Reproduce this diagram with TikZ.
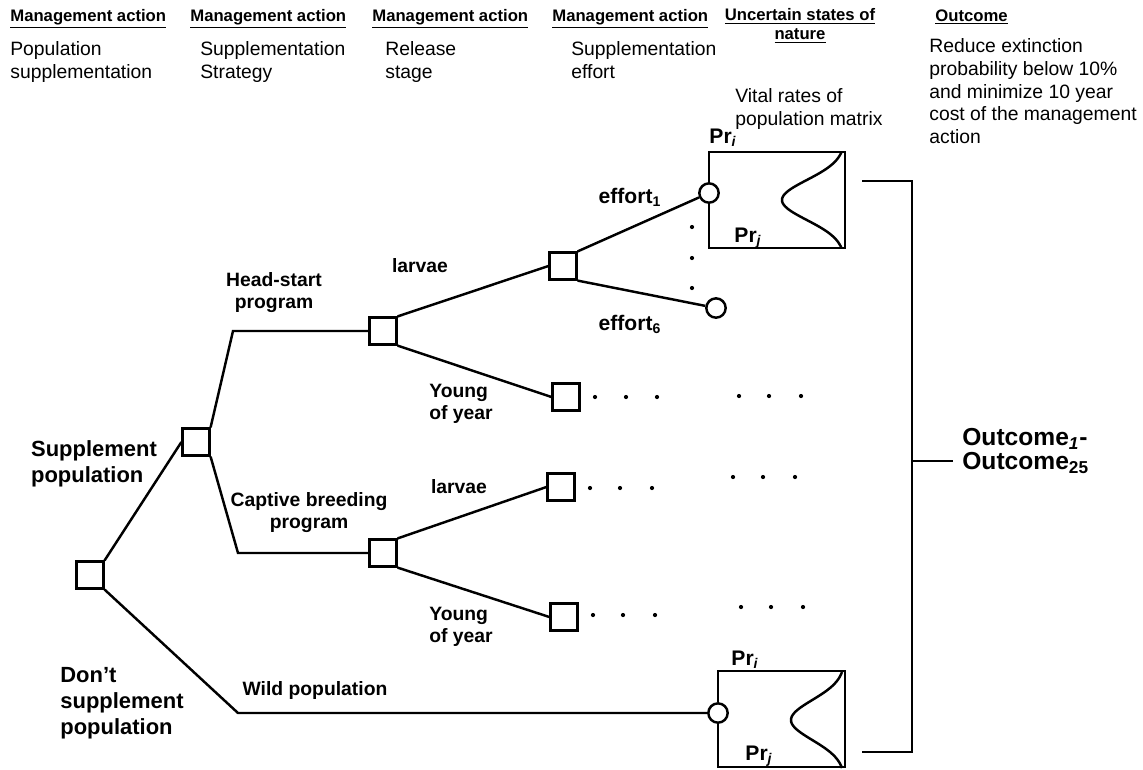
\documentclass[tikz,border=0pt]{standalone}
\usepackage{fontspec}
\setmainfont{Liberation Sans}
\usetikzlibrary{positioning}

\tikzset{
  decision/.style={draw, rectangle, line width=1.6pt, minimum size=15pt, inner sep=0pt},
  chance/.style={draw, circle, line width=1.4pt, minimum size=11pt, inner sep=0pt},
  branch/.style={line width=1.4pt},
  thinbox/.style={line width=0.8pt},
  hdr/.style={anchor=base west, inner sep=0pt, font=\fontsize{9.5}{11}\selectfont\bfseries},
  body/.style={anchor=north west, inner sep=0pt, align=left, font=\fontsize{11}{13}\selectfont},
  lab/.style={inner sep=0pt, align=center, font=\fontsize{11}{12.5}\selectfont\bfseries},
  big/.style={inner sep=0pt, align=left, font=\fontsize{12.5}{14.7}\selectfont\bfseries},
  eff/.style={inner sep=0pt, font=\fontsize{12}{12}\selectfont\bfseries},
  prob/.style={inner sep=0pt, font=\fontsize{12}{12}\selectfont\bfseries},
  outc/.style={inner sep=0pt, align=left, font=\fontsize{14}{13.5}\selectfont\bfseries},
}

\begin{document}
\begin{tikzpicture}[x=0.02cm, y=-0.02cm]
\useasboundingbox (0,0) rectangle (1143,769);

% column headers
\foreach \x/\n in {10/h1, 190/h2, 372/h3, 552/h4}
  \node[hdr] (\n) at (\x,21) {\underline{Management action}};
\node[hdr, anchor=north, align=center] (h5) at (800,8) {\underline{Uncertain states of}\\\underline{nature}};
\node[hdr] (h6) at (935,21) {\underline{Outcome}};

\node[body] (b1) at (10,41) {Population\\supplementation};
\node[body] (b2) at (200,41) {Supplementation\\Strategy};
\node[body] (b3) at (385,41) {Release\\stage};
\node[body] (b4) at (571,41) {Supplementation\\effort};
\node[body] (b5) at (735,88) {Vital rates of\\population matrix};
\node[body] (b6) at (929,38) {Reduce extinction\\probability below 10\%\\and minimize 10 year\\cost of the management\\action};

% decision and chance nodes
\node[decision] (root) at (90,575) {};
\node[decision] (strat) at (196,442) {};
\node[decision] (head) at (383,331) {};
\node[decision] (capt) at (383,553) {};
\node[decision] (hlarv) at (563,266) {};
\node[decision] (hyoung) at (566,397) {};
\node[decision] (clarv) at (561,487) {};
\node[decision] (cyoung) at (564,617) {};
\node[chance] (eff1) at (709,193) {};
\node[chance] (eff6) at (716,308) {};
\node[chance] (wild) at (718,713) {};

\coordinate (khead) at (233,331);
\coordinate (kcapt) at (238,553);
\coordinate (kwild) at (238,713);

% branches
\draw[branch] (root.north east) -- (strat.west);
\draw[branch] (root.south east) -- (kwild) -- (wild);
\draw[branch] (strat.north east) -- (khead) -- (head);
\draw[branch] (strat.south east) -- (kcapt) -- (capt);
\foreach \a/\b/\c in {head/hlarv/hyoung, capt/clarv/cyoung} {
  \draw[branch] (\a.north east) -- (\b.west);
  \draw[branch] (\a.south east) -- (\c.west);
}
\draw[branch] (hlarv.north east) -- (eff1);
\draw[branch] (hlarv.south east) -- (eff6);

% branch labels
\node[lab] (lhead) at (274,293) {Head-start\\program};
\node[lab] (lcapt) at (309,513) {Captive breeding\\program};
\node[lab] (lhl) at (420,266) {larvae};
\node[lab] (lcl) at (459,487) {larvae};
\node[lab, align=left] (lhy) at (461,404) {Young\\of year};
\node[lab, align=left] (lcy) at (461,627) {Young\\of year};
\node[lab] (lwild) at (315,690) {Wild population};
\node[big] (lsupp) at (94,464) {Supplement\\population};
\node[big] (ldont) at (122,703) {Don't\\supplement\\population};
\node[eff] (le1) at (630,197) {effort\textsubscript{1}};
\node[eff] (le6) at (630,324) {effort\textsubscript{6}};

% continuation dots
\foreach \x/\y in {595/397, 626/397, 657/397, 739/396, 769/396, 801/396,
                   590/488, 620/488, 652/488, 733/477, 763/477, 795/477,
                   593/615, 623/615, 655/615, 741/607, 771/607, 803/607,
                   692/227, 692/258, 692/288}
  \fill (\x,\y) circle (1.2pt);

% probability boxes
\foreach \c/\top/\bot/\mid/\amp in {eff1/152/248/200/63, wild/671/767/720/54} {
  \draw[thinbox] (\c.north) -- (\c.north |- 0,\top) -- (845,\top) -- (845,\bot) -- (\c.south |- 0,\bot) -- (\c.south);
  \draw[branch] plot[domain=-48:48, samples=61, smooth] ({845-\amp*exp(-(\x/20)^2/2)}, {\mid+\x});
}
\node[prob] (pi1) at (723,138) {Pr\textsubscript{\itshape i}};
\node[prob] (pj1) at (748,238) {Pr\textsubscript{\itshape j}};
\node[prob] (pi2) at (745,660) {Pr\textsubscript{\itshape i}};
\node[prob] (pj2) at (759,756) {Pr\textsubscript{\itshape j}};

% outcome bracket
\draw[branch] (862,181) -- (912,181) -- (912,752) -- (862,752);
\coordinate (brk) at (912,461);
\node[outc, anchor=west] (outc) at (962,451) {Outcome\textsubscript{\itshape 1}-\\Outcome\textsubscript{25}};
\draw[branch] (brk) -- ++(41,0);
\end{tikzpicture}
\end{document}
